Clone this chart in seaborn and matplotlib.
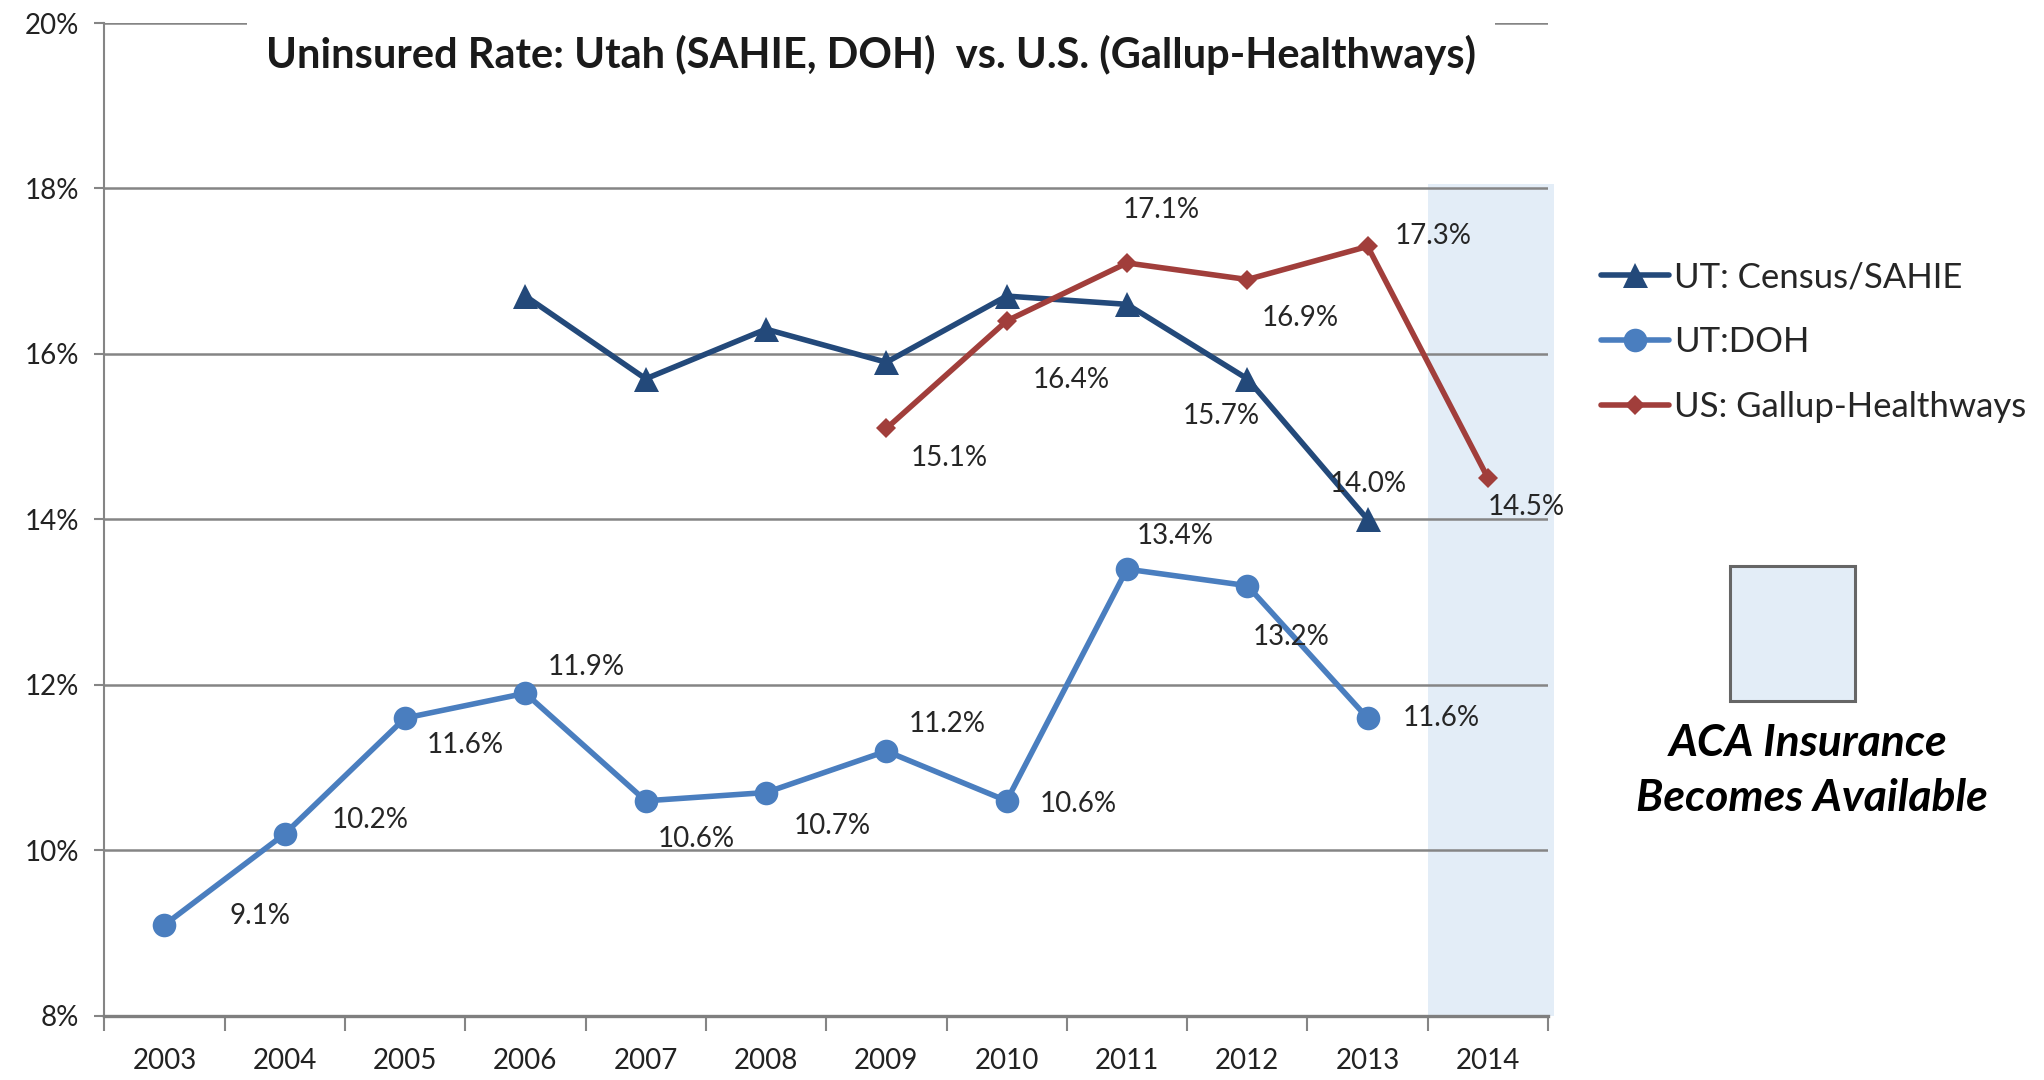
import numpy as np
import pandas as pd
import matplotlib
matplotlib.use("Agg")
import matplotlib.pyplot as plt
import seaborn as sns
from matplotlib.patches import Rectangle
from matplotlib.ticker import FixedLocator, FuncFormatter

# ---------------- data ----------------
years = [2003, 2004, 2005, 2006, 2007, 2008, 2009, 2010, 2011, 2012, 2013, 2014]
sahie_years = [2006, 2007, 2008, 2009, 2010, 2011, 2012, 2013]
sahie_vals = [16.7, 15.7, 16.3, 15.9, 16.7, 16.6, 15.7, 14.0]
doh_years = [2003, 2004, 2005, 2006, 2007, 2008, 2009, 2010, 2011, 2012, 2013]
doh_vals = [9.1, 10.2, 11.6, 11.9, 10.6, 10.7, 11.2, 10.6, 13.4, 13.2, 11.6]
gallup_years = [2009, 2010, 2011, 2012, 2013, 2014]
gallup_vals = [15.1, 16.4, 17.1, 16.9, 17.3, 14.5]
sahie_labeled_years = [2012, 2013]
y_ticks = [8, 10, 12, 14, 16, 18, 20]
aca_year = 2014
series_names = ["UT: Census/SAHIE", "UT:DOH", "US: Gallup-Healthways"]
title = "Uninsured Rate: Utah (SAHIE, DOH)  vs. U.S. (Gallup-Healthways)"

# ---------------- styles ----------------
C_SAHIE = "#23497A"
C_DOH = "#4A7EBF"
C_GALLUP = "#A13E3B"
SHADE = "#E3EDF7"
GRID = "#858585"
FONT = ["Lato", "DejaVu Sans"]

# label offsets in pixels (style only)
doh_off = [(96, 9), (85, 14), (60, -27), (61, 26), (51, -38), (66, -33),
           (61, 27), (72, -3), (48, 33), (44, -51), (74, 0)]
gallup_off = [(63, -30), (65, -59), (34, 53), (53, -38), (66, 10), (38, -29)]
sahie_off = {2012: (-26, -37), 2013: (1, 35)}

sns.set_theme(style="white")
plt.rcParams["font.family"] = FONT

fig = plt.figure(figsize=(20.44, 10.8), dpi=100)
ax = fig.add_axes([0.051, 0.0593, 0.7064, 0.9194])

df = pd.concat([
    pd.DataFrame({"year": sahie_years, "rate": sahie_vals, "series": series_names[0]}),
    pd.DataFrame({"year": doh_years, "rate": doh_vals, "series": series_names[1]}),
    pd.DataFrame({"year": gallup_years, "rate": gallup_vals, "series": series_names[2]}),
])

# shaded ACA region
ax.fill_between([aca_year - 0.5, aca_year + 0.55], [y_ticks[0]] * 2, [18.05] * 2,
                color=SHADE, zorder=0.2, linewidth=0, clip_on=False)

styles = {
    series_names[0]: dict(color=C_SAHIE, marker="^", markersize=18),
    series_names[1]: dict(color=C_DOH, marker="o", markersize=17),
    series_names[2]: dict(color=C_GALLUP, marker="D", markersize=10),
}
for name in series_names:
    sub = df[df["series"] == name]
    st = styles[name]
    sns.lineplot(data=sub, x="year", y="rate", ax=ax, color=st["color"],
                 marker=st["marker"], markersize=st["markersize"],
                 markeredgecolor=st["color"], markeredgewidth=0,
                 linewidth=4.0, label=name, zorder=3)

# data labels
lab_kw = dict(textcoords="offset pixels", ha="center", va="center",
              fontsize=20, color="#262626", zorder=5)
for (x, y), off in zip(zip(doh_years, doh_vals), doh_off):
    ax.annotate(f"{y:.1f}%", (x, y), xytext=off, **lab_kw)
for (x, y), off in zip(zip(gallup_years, gallup_vals), gallup_off):
    ax.annotate(f"{y:.1f}%", (x, y), xytext=off, **lab_kw)
for x, y in zip(sahie_years, sahie_vals):
    if x in sahie_labeled_years:
        ax.annotate(f"{y:.1f}%", (x, y), xytext=sahie_off[x], **lab_kw)

# axes
ax.set_xlim(years[0] - 0.5, years[-1] + 0.5)
ax.set_ylim(y_ticks[0], y_ticks[-1])
ax.set_yticks(y_ticks)
ax.yaxis.set_major_formatter(FuncFormatter(lambda v, p: f"{v:.0f}%"))
ax.xaxis.set_major_locator(FixedLocator(years))
ax.set_xticklabels([str(y) for y in years])
ax.xaxis.set_minor_locator(FixedLocator([y - 0.5 for y in years] + [years[-1] + 0.5]))
ax.set_xlabel("")
ax.set_ylabel("")

ax.set_axisbelow(True)
ax.grid(axis="y", color=GRID, linewidth=1.8)
ax.grid(axis="x", visible=False)
for s in ["top", "right"]:
    ax.spines[s].set_visible(False)
ax.spines["left"].set_color(GRID)
ax.spines["left"].set_linewidth(1.5)
ax.spines["bottom"].set_color("#7F7F7F")
ax.spines["bottom"].set_linewidth(2.4)

ax.tick_params(axis="y", which="major", left=True, length=7, width=1.5,
               color=GRID, pad=11, labelsize=20, labelcolor="#222222")
ax.tick_params(axis="x", which="major", bottom=False, length=0, pad=23,
               labelsize=20, labelcolor="#222222")
ax.tick_params(axis="x", which="minor", bottom=True, length=11, width=1.5,
               color=GRID)

# legend
ax.legend_.remove()
handles, labels = ax.get_legend_handles_labels()
fig.legend(handles, labels, loc="center left",
           bbox_to_anchor=(1601 / 2044, 1 - 342 / 1080), frameon=False,
           fontsize=25, handlelength=1.95, handletextpad=0.15,
           labelspacing=0.95, borderpad=0, borderaxespad=0)

# title with white box covering top gridline
fig.text(871 / 2044, 1 - 55 / 1080, title, ha="center", va="center",
         fontsize=30, fontweight="bold", color="#1a1a1a",
         bbox=dict(boxstyle="square,pad=0.45", facecolor="white", edgecolor="none"))

# ACA legend box
fig.patches.append(Rectangle((1730 / 2044, 1 - 701 / 1080), 125 / 2044, 135 / 1080,
                             transform=fig.transFigure, facecolor=SHADE,
                             edgecolor="#666666", linewidth=2.2))
fig.text(1808 / 2044, 1 - 743 / 1080, "ACA Insurance", ha="center", va="center",
         fontsize=32, fontweight="bold", fontstyle="italic", color="black")
fig.text(1812 / 2044, 1 - 798 / 1080, "Becomes Available", ha="center", va="center",
         fontsize=32, fontweight="bold", fontstyle="italic", color="black")

fig.savefig("out.png", dpi=100, facecolor="white")
